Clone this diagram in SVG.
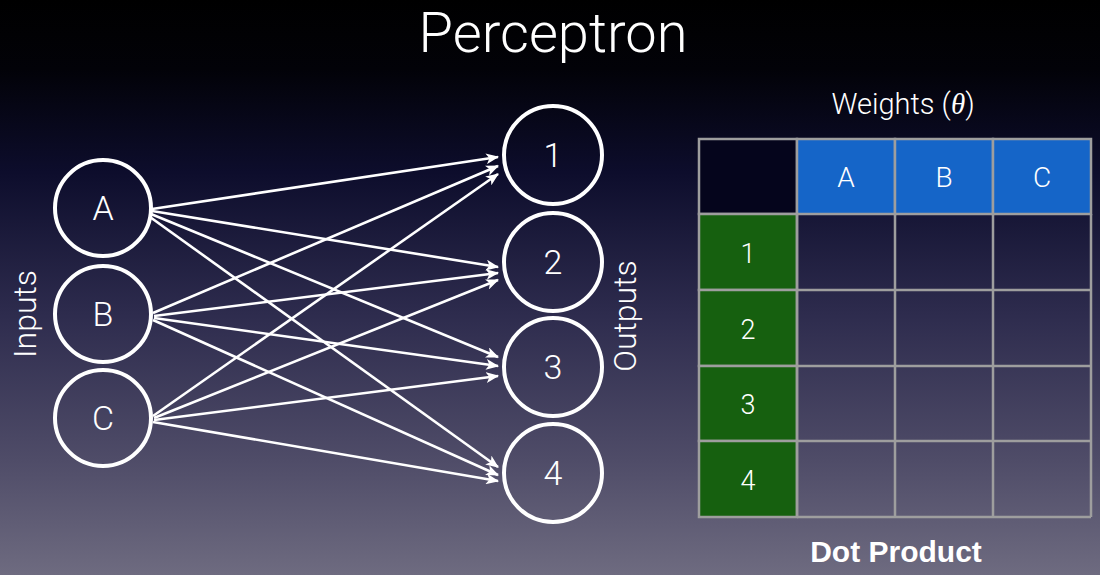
<svg xmlns="http://www.w3.org/2000/svg" width="1100" height="575" viewBox="0 0 1100 575">
<defs>
<linearGradient id="bg" x1="0" y1="0" x2="0" y2="1">
<stop offset="0" stop-color="#000000"/>
<stop offset="0.12" stop-color="#020208"/>
<stop offset="0.3" stop-color="#0d0d2c"/>
<stop offset="0.55" stop-color="#2e2c4e"/>
<stop offset="0.8" stop-color="#4f4c68"/>
<stop offset="1" stop-color="#6e6b80"/>
</linearGradient>
<marker id="ah" viewBox="0 0 12 10" refX="11" refY="5" markerWidth="13" markerHeight="11" markerUnits="userSpaceOnUse" orient="auto">
<path d="M0,0 L12,5 L0,10 L3,5 Z" fill="#ffffff"/>
</marker>
</defs>
<style>
.lbl{font-family:Roboto,"Liberation Sans",sans-serif;font-weight:300;fill:#ffffff;text-anchor:middle}
.node circle{fill:none;stroke:#ffffff;stroke-width:4}
.edge{stroke:#ffffff;stroke-width:2.6;fill:none;marker-end:url(#ah)}
.cell{stroke:#9e9e9e;stroke-width:2.5}
</style>
<rect x="0" y="0" width="1100" height="575" fill="url(#bg)"/>
<text class="lbl" x="553" y="52" font-size="56">Perceptron</text>

<g id="connectors">
<line class="edge" x1="152" y1="209" x2="498" y2="157"/>
<line class="edge" x1="152" y1="211" x2="498" y2="267"/>
<line class="edge" x1="151" y1="214" x2="498" y2="357"/>
<line class="edge" x1="150" y1="217" x2="498" y2="467"/>
<line class="edge" x1="153" y1="313" x2="498" y2="166"/>
<line class="edge" x1="154" y1="316" x2="498" y2="273"/>
<line class="edge" x1="154" y1="318" x2="498" y2="366"/>
<line class="edge" x1="153" y1="320" x2="498" y2="475"/>
<line class="edge" x1="153" y1="416" x2="498" y2="174"/>
<line class="edge" x1="154" y1="418" x2="498" y2="280"/>
<line class="edge" x1="154" y1="420" x2="498" y2="376"/>
<line class="edge" x1="153" y1="422" x2="498" y2="481"/>
</g>

<g id="node-A" class="node"><circle cx="103" cy="208" r="48"/><text class="lbl" x="103" y="220" font-size="34">A</text></g>
<g id="node-B" class="node"><circle cx="103" cy="314" r="48"/><text class="lbl" x="103" y="326" font-size="34">B</text></g>
<g id="node-C" class="node"><circle cx="103" cy="418" r="48"/><text class="lbl" x="103" y="430" font-size="34">C</text></g>

<g id="node-1" class="node"><circle cx="553" cy="155" r="49"/><text class="lbl" x="553" y="167" font-size="34">1</text></g>
<g id="node-2" class="node"><circle cx="553" cy="262" r="49"/><text class="lbl" x="553" y="274" font-size="34">2</text></g>
<g id="node-3" class="node"><circle cx="553" cy="367" r="49"/><text class="lbl" x="553" y="379" font-size="34">3</text></g>
<g id="node-4" class="node"><circle cx="553" cy="473" r="49"/><text class="lbl" x="553" y="485" font-size="34">4</text></g>

<text class="lbl" font-size="32" transform="translate(36,314) rotate(-90)">Inputs</text>
<text class="lbl" font-size="32" transform="translate(636,316) rotate(-90)">Outputs</text>

<text class="lbl" x="903" y="114" font-size="29">Weights (<tspan font-style="italic" font-weight="400" font-family="'Liberation Serif',serif">θ</tspan>)</text>

<g id="table">
<rect class="cell" x="699" y="139" width="98" height="75" fill="#05051c"/>
<rect class="cell" x="797" y="139" width="98" height="75" fill="#1565c8"/>
<rect class="cell" x="895" y="139" width="98" height="75" fill="#1565c8"/>
<rect class="cell" x="993" y="139" width="98" height="75" fill="#1565c8"/>
<rect class="cell" x="699" y="214" width="98" height="76" fill="#16600f"/>
<rect class="cell" x="699" y="290" width="98" height="76" fill="#16600f"/>
<rect class="cell" x="699" y="366" width="98" height="75" fill="#16600f"/>
<rect class="cell" x="699" y="441" width="98" height="76" fill="#16600f"/>
<path d="M797,214 V517 M895,214 V517 M993,214 V517 M1091,214 V517 M797,290 H1091 M797,366 H1091 M797,441 H1091 M797,517 H1091" stroke="#9e9e9e" stroke-width="2.5" fill="none"/>
<text class="lbl" x="846" y="187" font-size="28">A</text>
<text class="lbl" x="944" y="187" font-size="28">B</text>
<text class="lbl" x="1042" y="187" font-size="28">C</text>
<text class="lbl" x="748" y="263" font-size="27">1</text>
<text class="lbl" x="748" y="339" font-size="27">2</text>
<text class="lbl" x="748" y="414" font-size="27">3</text>
<text class="lbl" x="748" y="490" font-size="27">4</text>
</g>

<text x="896" y="562" font-size="30" font-family="'Liberation Sans',Arial,sans-serif" font-weight="700" fill="#ffffff" text-anchor="middle">Dot Product</text>
</svg>
